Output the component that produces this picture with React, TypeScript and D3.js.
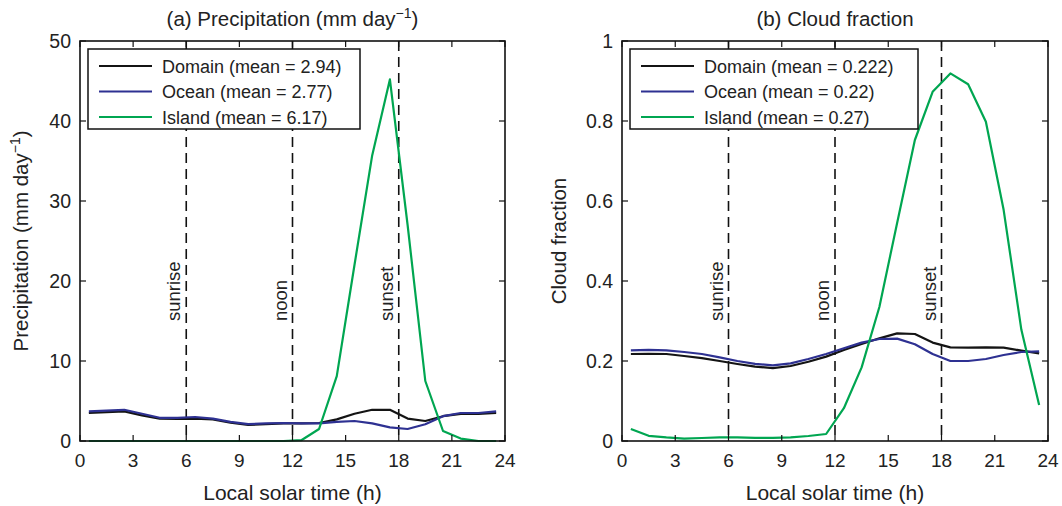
import React from "react";
import * as d3 from "d3";

const hours = [0.5, 1.5, 2.5, 3.5, 4.5, 5.5, 6.5, 7.5, 8.5, 9.5, 10.5, 11.5, 12.5, 13.5, 14.5, 15.5, 16.5, 17.5, 18.5, 19.5, 20.5, 21.5, 22.5, 23.5];

const precipDomain = [3.5, 3.6, 3.7, 3.2, 2.8, 2.75, 2.8, 2.7, 2.3, 2.0, 2.1, 2.2, 2.2, 2.25, 2.7, 3.4, 3.9, 3.9, 2.8, 2.5, 3.1, 3.4, 3.4, 3.5];
const precipOcean = [3.7, 3.8, 3.9, 3.4, 2.9, 2.9, 3.0, 2.8, 2.4, 2.1, 2.2, 2.25, 2.2, 2.2, 2.4, 2.5, 2.2, 1.7, 1.5, 2.1, 3.1, 3.5, 3.5, 3.7];
const precipIsland = [0, 0, 0, 0, 0, 0, 0, 0, 0, 0, 0, 0, 0.1, 1.5, 8.1, 22, 35.7, 45.2, 27, 7.5, 1.25, 0.3, 0, 0];

const cloudDomain = [0.2175, 0.218, 0.2175, 0.2125, 0.207, 0.2, 0.1925, 0.186, 0.182, 0.1875, 0.198, 0.211, 0.2275, 0.2425, 0.2567, 0.269, 0.2675, 0.246, 0.234, 0.2333, 0.234, 0.2333, 0.226, 0.219];
const cloudOcean = [0.2267, 0.228, 0.2267, 0.2225, 0.2175, 0.209, 0.2, 0.193, 0.189, 0.194, 0.205, 0.2175, 0.232, 0.246, 0.255, 0.256, 0.242, 0.2175, 0.2, 0.2, 0.205, 0.215, 0.2225, 0.224];
const cloudIsland = [0.03, 0.013, 0.009, 0.006, 0.0075, 0.009, 0.009, 0.008, 0.008, 0.009, 0.0125, 0.0175, 0.082, 0.184, 0.335, 0.545, 0.7525, 0.873, 0.919, 0.892, 0.798, 0.578, 0.278, 0.09];

const xTicks = [0, 3, 6, 9, 12, 15, 18, 21, 24];
const precipTicks = [0, 10, 20, 30, 40, 50];
const cloudTicks = [0, 0.2, 0.4, 0.6, 0.8, 1];

const eventTimes = [6, 12, 18];
const eventLabels = ["sunrise", "noon", "sunset"];

const seriesNames = ["Domain", "Ocean", "Island"];
const precipMeans = ["2.94", "2.77", "6.17"];
const cloudMeans = ["0.222", "0.22", "0.27"];
const seriesColors = ["#141414", "#2e3192", "#00a651"];

const FONT = "'Liberation Sans', Arial, Helvetica, sans-serif";

type PanelProps = {
  x0: number;
  x1: number;
  yDomain: [number, number];
  yTicks: number[];
  series: number[][];
  means: string[];
  title: React.ReactNode;
  yLabel: React.ReactNode;
  yLabelX: number;
  legendW: number;
  tickFmt: (v: number) => string;
};

function Panel(p: PanelProps) {
  const top = 41;
  const bottom = 441;
  const x = d3.scaleLinear().domain([0, 24]).range([p.x0, p.x1]);
  const y = d3.scaleLinear().domain(p.yDomain).range([bottom, top]);
  const line = d3
    .line<number>()
    .x((_, i) => x(hours[i]))
    .y((d) => y(d));
  const tl = 6;
  const cx = (p.x0 + p.x1) / 2;
  const lgX = p.x0 + 8;
  const lgY = 49;
  return (
    <g fontFamily={FONT} fill="#222">
      {eventTimes.map((t, i) => (
        <g key={"ev" + i}>
          <line x1={x(t)} x2={x(t)} y1={top} y2={bottom} stroke="#111" strokeWidth={1.6} strokeDasharray="10,6" />
          <text transform={`translate(${x(t) - 6},321) rotate(-90)`} fontSize={18.5} textAnchor="start" fill="#222">
            {eventLabels[i]}
          </text>
        </g>
      ))}
      {p.series.map((s, i) => (
        <path key={"s" + i} d={line(s) || ""} fill="none" stroke={seriesColors[i]} strokeWidth={2.2} strokeLinejoin="round" />
      ))}
      <rect x={lgX} y={lgY} width={p.legendW} height={80} fill="#fff" stroke="#111" strokeWidth={1.5} />
      {seriesNames.map((n, i) => (
        <g key={"lg" + i}>
          <line x1={lgX + 11} x2={lgX + 64} y1={lgY + 17 + i * 25.5} y2={lgY + 17 + i * 25.5} stroke={seriesColors[i]} strokeWidth={2.2} />
          <text x={lgX + 74} y={lgY + 23.5 + i * 25.5} fontSize={18}>
            {`${n} (mean = ${p.means[i]})`}
          </text>
        </g>
      ))}
      <rect x={p.x0} y={top} width={p.x1 - p.x0} height={bottom - top} fill="none" stroke="#111" strokeWidth={1.6} />
      {xTicks.map((t) => (
        <g key={"xt" + t}>
          <line x1={x(t)} x2={x(t)} y1={bottom} y2={bottom - tl} stroke="#111" strokeWidth={1.2} />
          <line x1={x(t)} x2={x(t)} y1={top} y2={top + tl} stroke="#111" strokeWidth={1.2} />
          <text x={x(t)} y={467} fontSize={19} textAnchor="middle">
            {t}
          </text>
        </g>
      ))}
      {p.yTicks.map((t) => (
        <g key={"yt" + t}>
          <line x1={p.x0} x2={p.x0 + tl} y1={y(t)} y2={y(t)} stroke="#111" strokeWidth={1.2} />
          <line x1={p.x1} x2={p.x1 - tl} y1={y(t)} y2={y(t)} stroke="#111" strokeWidth={1.2} />
          <text x={p.x0 - 9} y={y(t) + 7} fontSize={19.5} textAnchor="end">
            {p.tickFmt(t)}
          </text>
        </g>
      ))}
      <text x={cx} y={26} fontSize={20.5} textAnchor="middle">
        {p.title}
      </text>
      <text x={cx} y={500} fontSize={21} textAnchor="middle">
        Local solar time (h)
      </text>
      <text transform={`translate(${p.yLabelX},${(top + bottom) / 2}) rotate(-90)`} fontSize={20.5} textAnchor="middle">
        {p.yLabel}
      </text>
    </g>
  );
}

export default function App() {
  return (
    <svg width={1062} height={506} style={{ position: "absolute", left: 0, top: 0, background: "#fff" }}>
      <rect width={1062} height={506} fill="#fff" />
      <Panel
        x0={80}
        x1={505}
        yDomain={[0, 50]}
        yTicks={precipTicks}
        series={[precipDomain, precipOcean, precipIsland]}
        means={precipMeans}
        title={
          <>
            (a) Precipitation (mm day
            <tspan dy={-8} fontSize={14}>−1</tspan>
            <tspan dy={8}>)</tspan>
          </>
        }
        yLabel={
          <>
            Precipitation (mm day
            <tspan dy={-8} fontSize={14}>−1</tspan>
            <tspan dy={8}>)</tspan>
          </>
        }
        yLabelX={28}
        legendW={272}
        tickFmt={(v) => String(v)}
      />
      <Panel
        x0={622}
        x1={1048}
        yDomain={[0, 1]}
        yTicks={cloudTicks}
        series={[cloudDomain, cloudOcean, cloudIsland]}
        means={cloudMeans}
        title={<>(b) Cloud fraction</>}
        yLabel={<>Cloud fraction</>}
        yLabelX={566}
        legendW={288}
        tickFmt={(v) => String(v)}
      />
    </svg>
  );
}
